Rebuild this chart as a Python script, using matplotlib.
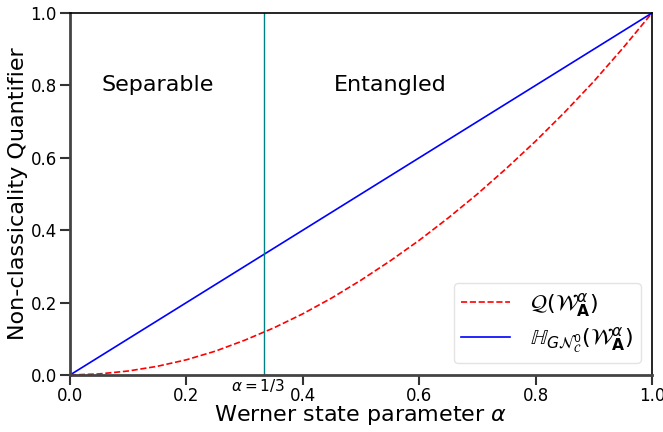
import numpy as np
import matplotlib
matplotlib.use("Agg")
import matplotlib.pyplot as plt

# Data
alpha_q = [0.00, 0.05, 0.10, 0.15, 0.20, 0.25, 0.30, 0.35, 0.40, 0.45, 0.50,
           0.55, 0.60, 0.65, 0.70, 0.75, 0.80, 0.85, 0.90, 0.95, 1.00]
q_vals = [0.000, 0.003, 0.011, 0.024, 0.042, 0.066, 0.096, 0.130, 0.169, 0.213, 0.262,
          0.315, 0.372, 0.434, 0.500, 0.571, 0.646, 0.726, 0.811, 0.903, 1.000]
alpha_h = [0.0, 1.0]
h_vals = [0.0, 1.0]
alpha_sep = 1/3

label_q = r'$\mathcal{Q}(\mathcal{W}^{\alpha}_{\mathbf{A}})$'
label_h = r'$\mathbb{H}_{G\mathcal{N}^{0}_{\mathcal{C}}}(\mathcal{W}^{\alpha}_{\mathbf{A}})$'

fig = plt.figure(figsize=(6.63, 4.32), dpi=100)
ax = fig.add_axes([70/663, 1-375/432, (652-70)/663, (375-13)/432])

ax.plot(alpha_q, q_vals, color='red', linestyle='--', linewidth=1.2, label=label_q)
ax.plot(alpha_h, h_vals, color='blue', linestyle='-', linewidth=1.2, label=label_h)
ax.axvline(alpha_sep, color='teal', linewidth=1.0)

ax.set_xlim(0, 1)
ax.set_ylim(0, 1)
ax.set_xticks([0.0, 0.2, 0.4, 0.6, 0.8, 1.0])
ax.set_yticks([0.0, 0.2, 0.4, 0.6, 0.8, 1.0])
ax.tick_params(axis='both', labelsize=12, length=7, width=1.5, color='#333333',
               direction='out')
ax.tick_params(axis='x', pad=1.5)
ax.tick_params(axis='y', pad=2.5)

for s in ['left', 'bottom']:
    ax.spines[s].set_color('#444444')
    ax.spines[s].set_linewidth(2.0)
for s in ['top', 'right']:
    ax.spines[s].set_color('black')
    ax.spines[s].set_linewidth(1.2)

ax.set_xlabel(r'Werner state parameter $\alpha$', fontsize=16, labelpad=-1)
ax.set_ylabel('Non-classicality Quantifier', fontsize=16, labelpad=2)

ax.text(0.15, 0.8, 'Separable', fontsize=16, ha='center', va='center')
ax.text(0.55, 0.8, 'Entangled', fontsize=16, ha='center', va='center')
ax.text(alpha_sep - 0.01, -0.005, r'$\alpha = 1/3$', fontsize=11, ha='center', va='top',
        clip_on=False)

leg = ax.legend(loc='lower right', fontsize=16, frameon=True, borderpad=0.35,
                labelspacing=0.3, handlelength=2.2, handletextpad=0.9,
                bbox_to_anchor=(0.981, 0.033), borderaxespad=0)
leg.get_frame().set_edgecolor('#dddddd')

fig.savefig('out.png', dpi=100)
